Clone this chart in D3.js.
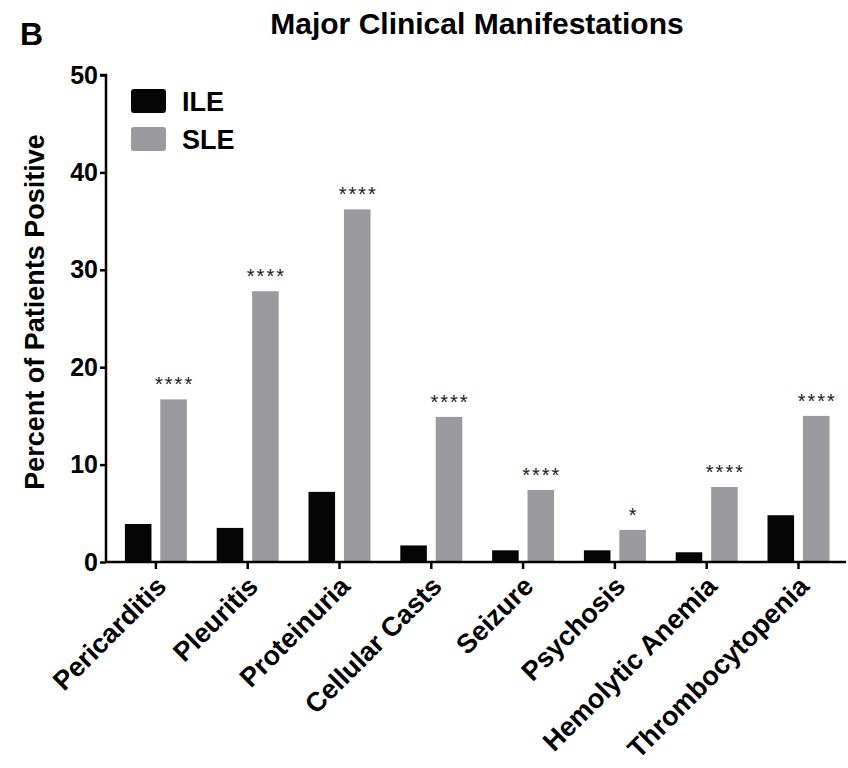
<!DOCTYPE html>
<html>
<head>
<meta charset="utf-8">
<script src="https://cdn.jsdelivr.net/npm/d3@7"></script>
<style>
  html, body { margin: 0; padding: 0; background: #fff; }
  svg { display: block; font-family: "Liberation Sans", Arial, Helvetica, sans-serif; }
</style>
</head>
<body>
<svg id="chart" width="848" height="768"></svg>
<script>
// Major clinical manifestations: percent of patients positive, ILE vs SLE
const categories = ["Pericarditis", "Pleuritis", "Proteinuria", "Cellular Casts",
                    "Seizure", "Psychosis", "Hemolytic Anemia", "Thrombocytopenia"];
const seriesNames = ["ILE", "SLE"];
const ileValues = [3.9, 3.5, 7.2, 1.7, 1.2, 1.2, 1.0, 4.8];
const sleValues = [16.7, 27.8, 36.2, 14.9, 7.4, 3.3, 7.7, 15.0];
const significance = ["****", "****", "****", "****", "****", "*", "****", "****"];
const yTicks = [0, 10, 20, 30, 40, 50];
const colors = { ILE: "#050505", SLE: "#9b9b9f" };

const rows = categories.map((c, i) => ({
  category: c, ILE: ileValues[i], SLE: sleValues[i], sig: significance[i]
}));

const svg = d3.select("#chart");

const x0 = d3.scaleBand().domain(categories).range([110, 844.4]).padding(0);
const groupWidth = 62;
const x1 = d3.scaleBand().domain(seriesNames).range([0, groupWidth]).paddingInner(0.25);
const y = d3.scaleLinear().domain([0, 50]).range([562, 75]);

// Panel letter and title
svg.append("text").attr("x", 20).attr("y", 45)
  .attr("font-size", 32).attr("font-weight", "bold").text("B");
svg.append("text").attr("x", 477).attr("y", 34)
  .attr("text-anchor", "middle").attr("font-size", 30).attr("font-weight", "bold")
  .text("Major Clinical Manifestations");

// Bars
const groups = svg.append("g").selectAll("g").data(rows).join("g")
  .attr("transform", d => `translate(${x0(d.category) + x0.bandwidth() / 2 - groupWidth / 2},0)`);

groups.selectAll("rect").data(d => seriesNames.map(s => ({ key: s, value: d[s] })))
  .join("rect")
  .attr("x", d => x1(d.key))
  .attr("width", x1.bandwidth())
  .attr("y", d => y(d.value))
  .attr("height", d => y(0) - y(d.value))
  .attr("fill", d => colors[d.key]);

// Significance markers above the SLE bars
groups.append("text")
  .attr("x", x1("SLE") + x1.bandwidth() / 2 + 1)
  .attr("y", d => y(d.SLE) - 8)
  .attr("text-anchor", "middle")
  .attr("font-size", 20)
  .attr("letter-spacing", 2)
  .attr("fill", "#222")
  .text(d => d.sig);

// Y axis
const yAxis = svg.append("g").attr("transform", "translate(106,0)")
  .call(d3.axisLeft(y).tickValues(yTicks).tickSize(6).tickPadding(2));
yAxis.select(".domain").attr("stroke", "#000").attr("stroke-width", 2.5)
  .attr("d", `M-6,${y(50)}H0V${y(0)}`);
yAxis.selectAll(".tick line").attr("stroke", "#000").attr("stroke-width", 2.5);
yAxis.selectAll(".tick text").attr("font-size", 25).attr("font-weight", "bold")
  .attr("fill", "#000").attr("font-family", null);

// X axis
const xAxis = svg.append("g").attr("transform", `translate(0,${y(0)})`)
  .call(d3.axisBottom(x0).tickSize(7).tickSizeOuter(0));
xAxis.select(".domain").attr("stroke", "#000").attr("stroke-width", 2.5)
  .attr("d", "M106,0H846");
xAxis.selectAll(".tick line").attr("stroke", "#000").attr("stroke-width", 2.5);
xAxis.selectAll(".tick text")
  .attr("font-size", 27).attr("font-weight", "bold").attr("fill", "#000")
  .attr("font-family", null)
  .attr("text-anchor", "end")
  .attr("dy", null).attr("y", null)
  .attr("transform", "translate(12,26) rotate(-45)");

// Y axis title
svg.append("text")
  .attr("transform", "translate(44,312) rotate(-90)")
  .attr("text-anchor", "middle").attr("font-size", 27).attr("font-weight", "bold")
  .text("Percent of Patients Positive");

// Legend
const legend = svg.append("g").selectAll("g").data(seriesNames).join("g")
  .attr("transform", (d, i) => `translate(131,${89 + i * 38})`);
legend.append("rect").attr("width", 35).attr("height", 24).attr("rx", 3)
  .attr("fill", d => colors[d]);
legend.append("text").attr("x", 51).attr("y", 22)
  .attr("font-size", 27).attr("font-weight", "bold").text(d => d);
</script>
</body>
</html>
